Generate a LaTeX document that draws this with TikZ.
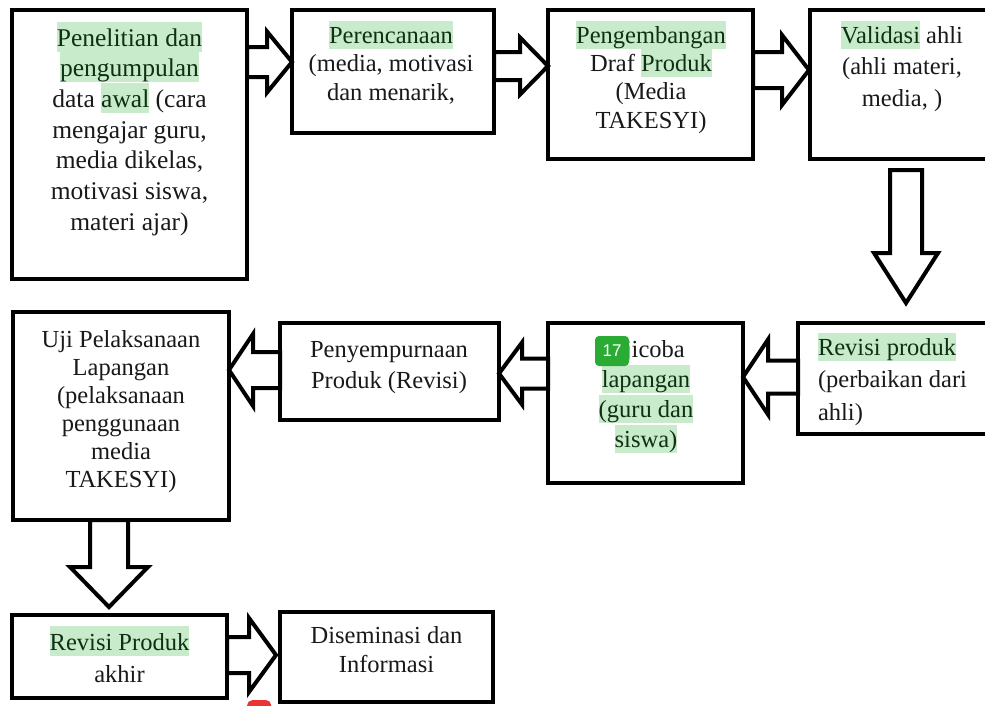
\documentclass[tikz,border=0pt]{standalone}
\usepackage{fontspec}
\setmainfont{Liberation Serif}
\newfontfamily\badgefont{Liberation Sans}
\usetikzlibrary{calc}
\definecolor{hlgreen}{RGB}{200,235,203}
\definecolor{hltext}{RGB}{16,48,20}
\definecolor{txtcol}{RGB}{25,25,25}
\definecolor{badgegreen}{RGB}{42,172,52}
\definecolor{badgered}{RGB}{232,52,52}
\newcommand\hla[1]{{\setlength\fboxsep{0pt}\colorbox{hlgreen}{\rule[-5.5pt]{0pt}{30pt}\textcolor{hltext}{#1}}}}
\newcommand\hlb[1]{{\setlength\fboxsep{0pt}\colorbox{hlgreen}{\rule[-5.5pt]{0pt}{27.5pt}\textcolor{hltext}{#1}}}}
\newcommand\fs{\rule{0pt}{25pt}}
% right-pointing block arrow: from, to, yc, shaft half, head half, head length, tip gap
\newcommand\arrR[7]{%
\draw[blockarr] (#1 |- 0,#3-#4) -- ($(#2 |- 0,#3-#4)+(-#6-#7,0)$) -- ($(#2 |- 0,#3-#5)+(-#6-#7,0)$)
 -- ($(#2 |- 0,#3)+(-#7,0)$) -- ($(#2 |- 0,#3+#5)+(-#6-#7,0)$) -- ($(#2 |- 0,#3+#4)+(-#6-#7,0)$)
 -- (#1 |- 0,#3+#4) -- cycle;}
% left-pointing block arrow
\newcommand\arrL[7]{%
\draw[blockarr] (#1 |- 0,#3-#4) -- ($(#2 |- 0,#3-#4)+(#6+#7,0)$) -- ($(#2 |- 0,#3-#5)+(#6+#7,0)$)
 -- ($(#2 |- 0,#3)+(#7,0)$) -- ($(#2 |- 0,#3+#5)+(#6+#7,0)$) -- ($(#2 |- 0,#3+#4)+(#6+#7,0)$)
 -- (#1 |- 0,#3+#4) -- cycle;}
% down-pointing block arrow: from, to, xc, shaft half, head half, head length, start gap, tip gap
\newcommand\arrD[8]{%
\draw[blockarr] ($(#3-#4,0 |- #1)+(0,#7)$) -- ($(#3-#4,0 |- #2)+(0,-#6-#8)$) -- ($(#3-#5,0 |- #2)+(0,-#6-#8)$)
 -- ($(#3,0 |- #2)+(0,-#8)$) -- ($(#3+#5,0 |- #2)+(0,-#6-#8)$) -- ($(#3+#4,0 |- #2)+(0,-#6-#8)$)
 -- ($(#3+#4,0 |- #1)+(0,#7)$) -- cycle;}
\tikzset{
  stepbox/.style={draw=black, line width=4pt, rectangle, inner sep=0pt, outer sep=0pt, anchor=north west},
  blockarr/.style={draw=black, line width=4pt, fill=white, line join=miter},
  txt/.style={inner sep=0pt, outer sep=0pt, anchor=north, align=center, text=txtcol},
}
\begin{document}
\begin{tikzpicture}[x=1pt,y=-1pt]
\useasboundingbox (0,0) rectangle (985,705);
\clip (0,0) rectangle (985,705);
\fill[white] (0,0) rectangle (985,705);
% boxes
\node[stepbox, minimum width=235pt, minimum height=269pt] (b1) at (12,10) {};
\node[stepbox, minimum width=202pt, minimum height=123pt] (b2) at (292,10) {};
\node[stepbox, minimum width=205pt, minimum height=149pt] (b3) at (548,10) {};
\node[stepbox, minimum width=190pt, minimum height=149pt] (b4) at (810,10) {};
\node[stepbox, minimum width=200pt, minimum height=111pt] (rp) at (798,323) {};
\node[stepbox, minimum width=195pt, minimum height=160pt] (uc) at (548,323) {};
\node[stepbox, minimum width=219pt, minimum height=97pt] (pp) at (280,323) {};
\node[stepbox, minimum width=216pt, minimum height=208pt] (uji) at (13,312) {};
\node[stepbox, minimum width=215pt, minimum height=83pt] (ak) at (12,615) {};
\node[stepbox, minimum width=213pt, minimum height=90pt] (ds) at (280,612) {};
% arrows
\arrR{b1.east}{b2.west}{62}{15}{30.5}{25}{0}
\arrR{b2.east}{b3.west}{66}{14}{28.5}{28}{0}
\arrR{b3.east}{b4.west}{70}{18}{35}{27}{1}
\arrD{b4.south}{rp.north}{906}{16}{32}{50}{11}{20}
\arrL{rp.west}{uc.east}{377}{16.5}{37.5}{25}{0}
\arrL{uc.west}{pp.east}{373.5}{15}{31}{23}{0}
\arrL{pp.west}{uji.east}{370}{18}{36}{24}{0}
\arrD{uji.south}{ak.north}{109}{19}{39}{40}{0}{8}
\arrR{ak.east}{ds.west}{655}{18}{37}{27}{4}
% texts
\node[txt, font=\fontsize{25.5}{30.7}\selectfont] (t1) at (129.5,21)
  {\fs\hla{Penelitian dan}\\ \hla{pengumpulan}\\ data \hla{awal} (cara\\ mengajar guru,\\ media dikelas,\\ motivasi siswa,\\ materi ajar)};
\node[txt, font=\fontsize{24.5}{28.5}\selectfont] (t2) at (391,18)
  {\fs\hlb{Perencanaan}\\ (media, motivasi\\ dan menarik,};
\node[txt, font=\fontsize{24.5}{28.4}\selectfont] (t3) at (651,18)
  {\fs\hlb{Pengembangan}\\ Draf \hlb{Produk}\\ (Media\\ TAKESYI)};
\node[txt, font=\fontsize{24.5}{31.5}\selectfont] (t4) at (902,18)
  {\fs\hlb{Validasi} ahli\\ (ahli materi,\\ media, )};
\node[txt, anchor=north west, align=left, font=\fontsize{24.5}{32.5}\selectfont] (t5) at (818,330)
  {\fs\hlb{Revisi produk}\\ (perbaikan dari\\ ahli)};
\node[txt, font=\fontsize{24.5}{30}\selectfont] (t6) at (646,332)
  {\fs Ujicoba\\ \hlb{lapangan}\\ \hlb{(guru dan}\\ \hlb{siswa)}};
\node[txt, font=\fontsize{24.5}{31}\selectfont] (t7) at (389,332)
  {\fs Penyempurnaan\\ Produk (Revisi)};
\node[txt, font=\fontsize{24.5}{28}\selectfont] (t8) at (121,322)
  {\fs Uji Pelaksanaan\\ Lapangan\\ (pelaksanaan\\ penggunaan\\ media\\ TAKESYI)};
\node[txt, font=\fontsize{24.5}{32}\selectfont] (t9) at (119.5,625)
  {\fs\hla{Revisi Produk}\\ akhir};
\node[txt, font=\fontsize{24.5}{29}\selectfont] (t10) at (386.5,618)
  {\fs Diseminasi dan\\ Informasi};
% overlay marks
\node[fill=badgegreen, rounded corners=4pt, minimum width=34pt, minimum height=30pt, inner sep=0pt,
  text=white, font=\badgefont\fontsize{17}{17}\selectfont] (badge) at (612,351) {17};
\node[fill=badgered, rounded corners=5pt, minimum width=24pt, minimum height=16pt, inner sep=0pt, anchor=north west] (redmark) at (247,700) {};
\end{tikzpicture}
\end{document}
